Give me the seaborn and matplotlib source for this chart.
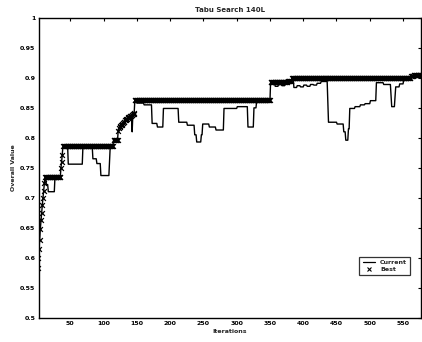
import numpy as np
import pandas as pd
import matplotlib
matplotlib.use("Agg")
import matplotlib.pyplot as plt
import seaborn as sns
from matplotlib.lines import Line2D

# ---- data (iteration at which a level starts, level value)
n_iter = 577
seg_start = [1, 2, 3, 4, 5, 6, 7, 8, 9, 10, 11, 12, 14, 17, 27, 36, 37, 38,
             39, 47, 69, 84, 90, 96, 109, 110, 115, 122,
             123, 124, 125, 126, 127, 128, 129, 130, 131, 132, 133, 134, 135,
             136, 137, 138, 139, 140, 141, 142, 143, 144, 145, 146,
             147, 150, 161, 173, 181, 190, 213, 226, 237, 240, 247, 249, 259,
             269, 281, 301, 317, 326, 330,
             351, 353, 358, 363, 368, 373, 377, 383, 386, 391, 396, 401, 406, 411, 416, 421, 427,
             437, 438, 451, 461, 464, 468, 470, 478, 486, 493, 501,
             510, 521, 532, 533, 538, 539, 545, 551, 557, 562, 566]
seg_value = [0.583, 0.600, 0.615, 0.630, 0.648, 0.662, 0.675, 0.688, 0.700, 0.712, 0.725, 0.735, 0.722, 0.710, 0.735, 0.750, 0.760, 0.772,
             0.786, 0.756, 0.785, 0.765, 0.757, 0.737, 0.760, 0.785, 0.796, 0.812,
             0.816, 0.818, 0.819, 0.821, 0.822, 0.823, 0.825, 0.826, 0.827, 0.829, 0.830, 0.831, 0.832,
             0.833, 0.834, 0.835, 0.836, 0.837, 0.837, 0.838, 0.810, 0.839, 0.840, 0.841,
             0.863, 0.858, 0.855, 0.824, 0.818, 0.849, 0.826, 0.821, 0.805, 0.793, 0.805, 0.823, 0.818,
             0.813, 0.849, 0.852, 0.818, 0.850, 0.860,
             0.893, 0.890, 0.886, 0.889, 0.887, 0.891, 0.894, 0.900, 0.884, 0.887, 0.885, 0.888, 0.886, 0.889, 0.888, 0.891, 0.894,
             0.860, 0.826, 0.823, 0.810, 0.796, 0.815, 0.849, 0.852, 0.855, 0.857, 0.862,
             0.892, 0.889, 0.870, 0.852, 0.870, 0.885, 0.890, 0.896, 0.899, 0.903, 0.905]

title = "Tabu Search 140L"
x_label = "Iterations"
y_label = "Overall Value"
x_ticks = [50, 100, 150, 200, 250, 300, 350, 400, 450, 500, 550]
y_ticks = [0.5, 0.55, 0.6, 0.65, 0.7, 0.75, 0.8, 0.85, 0.9, 0.95, 1]
y_tick_labels = ["0.5", "0.55", "0.6", "0.65", "0.7", "0.75", "0.8", "0.85", "0.9", "0.95", "1"]

# ---- expand the read levels into per-iteration values
lengths = np.diff(seg_start + [n_iter + 1])
current = np.repeat(seg_value, lengths)
iters = np.arange(1, n_iter + 1)
best = np.maximum.accumulate(current)
df = pd.DataFrame({"Iteration": iters, "Current": current, "Best": best})

sns.set_style("white")
plt.rcParams["font.family"] = ["DejaVu Sans"]

fig = plt.figure(figsize=(4.22, 3.42), dpi=100)
ax = fig.add_axes([39 / 422, 24.5 / 342, 382 / 422, 299.5 / 342])

sns.lineplot(data=df, x="Iteration", y="Current", color="black", linewidth=1.0,
             estimator=None, ax=ax, legend=False)
sns.scatterplot(data=df, x="Iteration", y="Best", marker="x", color="black",
                s=12, linewidth=0.9, ax=ax, legend=False)

ax.set_xlim(3, 577)
ax.set_ylim(0.5, 1.0)
ax.set_xticks(x_ticks)
ax.set_yticks(y_ticks)
ax.set_yticklabels(y_tick_labels)
ax.tick_params(direction="in", length=2.5, width=0.8, labelsize=4.5, pad=2.5,
               top=True, right=True, colors="black")
for lab in ax.get_xticklabels() + ax.get_yticklabels():
    lab.set_fontweight("bold")
for sp in ax.spines.values():
    sp.set_visible(True)
    sp.set_color("black")
    sp.set_linewidth(1.0)

ax.set_title(title, fontsize=5, fontweight="bold", pad=4)
ax.set_xlabel(x_label, fontsize=4.5, fontweight="bold", labelpad=2)
ax.set_ylabel(y_label, fontsize=4.5, fontweight="bold", labelpad=3)

handles = [Line2D([0], [0], color="black", lw=0.9),
           Line2D([0], [0], color="black", lw=0, marker="x", markersize=3, markeredgewidth=0.8)]
leg = ax.legend(handles, ["Current", "Best"], loc="lower right", bbox_to_anchor=(0.98, 0.13),
                fontsize=4.5, frameon=True, fancybox=False, edgecolor="black",
                handlelength=2.0, borderpad=0.5, labelspacing=0.3, handletextpad=0.8)
leg.get_frame().set_linewidth(0.9)
for t in leg.get_texts():
    t.set_fontweight("bold")

fig.savefig("out.png", dpi=100, facecolor="white")
